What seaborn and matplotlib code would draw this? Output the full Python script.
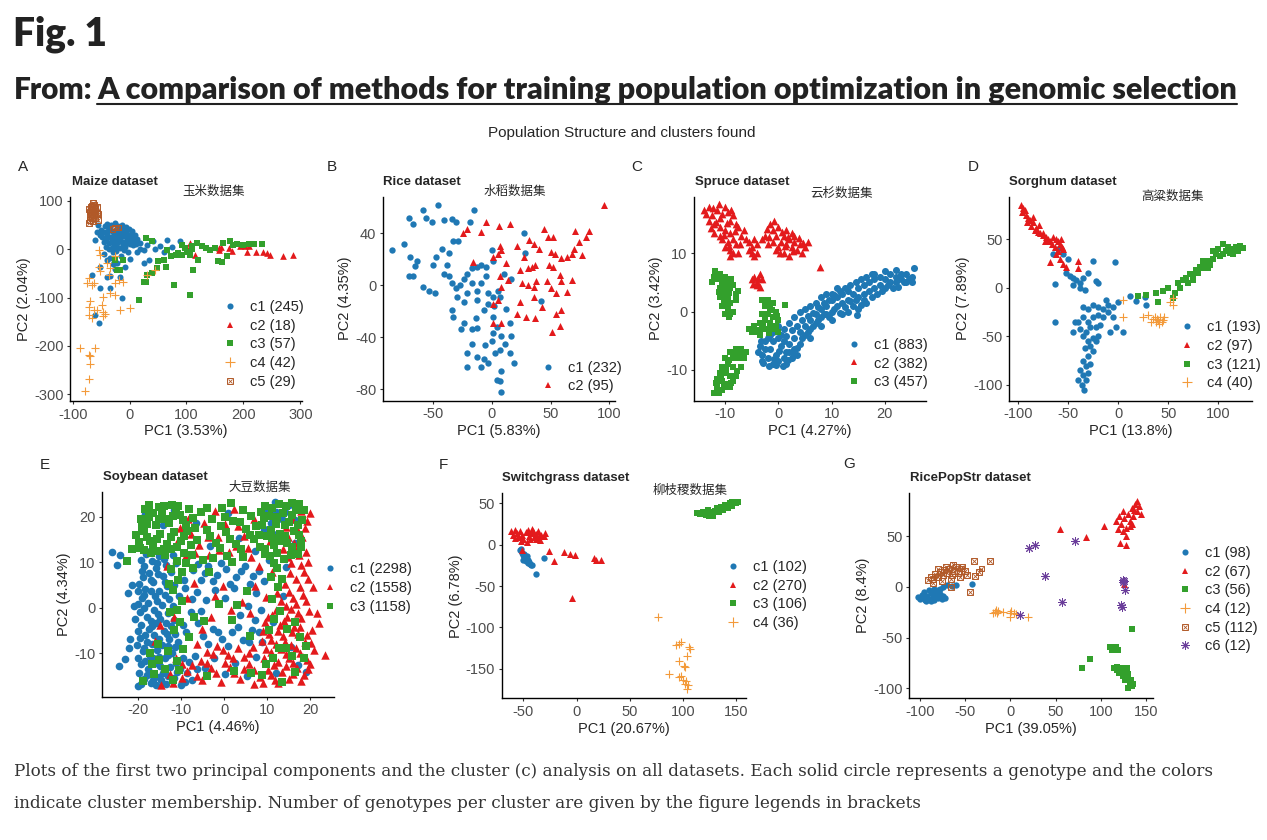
import numpy as np
import pandas as pd
import seaborn as sns
import matplotlib.pyplot as plt
from matplotlib.lines import Line2D

sns.set_theme(style='ticks')
plt.rcParams['font.family'] = ['Liberation Sans', 'DejaVu Sans']
plt.rcParams['axes.unicode_minus'] = False

W, H = 1267, 840

# ---------------- data ----------------
maize_c1 = [(-40,30),(-35,25),(-30,35),(-25,20),(-20,30),(-15,25),(-10,15),(-5,20),(0,10),(5,15),(-45,15),(-38,45),
            (-32,50),(-28,10),(-22,5),(-18,40),(-12,35),(-8,5),(-3,30),(2,25),(8,20),(12,10),(-50,40),(-55,50),(-48,25),
            (-42,5),(-36,0),(-30,-5),(-26,55),(-20,48),(-14,50),(-6,45),(-1,42),(4,38),(9,30),(13,22),(-33,15),(-27,28),
            (-17,18),(-11,8),(19,12),(31,9),(42,16),(54,6),(66,19),(89,16),(13,-5),(25,-1),(-2,-5),(19,0),(-34,-19),
            (-40,-22),(-22,-29),(-8,-36),(-52,-36),(-16,-57),(-66,-53),(-52,-81),(-34,-81),(-14,-101),(-60,-136),
            (-54,-153),(-40,-57),(25,-29),(34,-22),(-45,-10),(-58,35),(-60,20),(-15,-15),(-25,-40),(0,-20),(45,0),
            (60,-5),(75,5),(-35,-55),(-30,-30),(-45,35),(-42,22),(-38,38),(-34,42),(-29,18),(-26,38),(-23,12),(-19,22),
            (-16,35),(-13,42),(-10,28),(-7,38),(-4,12),(-1,22),(3,32),(6,8),(-37,12),(-31,3),(-24,-3),(-17,2),(-9,-2),
            (-44,48),(-52,30),(-40,52),(-20,15)]
maize_c2 = [(107,12),(115,-12),(157,-1),(174,2),(194,6),(209,6),(206,-5),(223,-5),(235,-5),(241,-8),(247,-12),
            (269,-15),(288,-12),(157,2),(203,7),(104,2),(160,4),(180,-3)]
maize_c3 = [(28,23),(39,16),(66,-1),(72,-15),(81,-12),(60,-22),(64,-36),(48,-39),(31,-53),(28,-67),(78,-74),(16,-105),
            (107,-94),(92,9),(98,2),(109,6),(118,12),(127,6),(141,-1),(150,2),(165,12),(176,16),(182,9),(171,-15),
            (162,-26),(155,-25),(200,9),(218,11),(232,11),(112,-43),(121,-22),(92,-12),(101,-5),(-22,-43),(-16,-43),
            (-11,-22),(-25,-22),(107,-12),(85,-8),(39,-50),(26,-68),(50,-25),(135,3),(188,10),(210,10),(110,0)]
maize_c4 = [(-54,-1),(-52,-12),(-25,-15),(-40,-29),(-54,-36),(-34,-39),(-37,-53),(45,-43),(31,-53),(-72,-60),(-63,-70),
            (-66,-74),(-19,-63),(-25,-70),(-11,-67),(-34,-91),(-25,-94),(-46,-98),(-49,-115),(-69,-108),(-72,-119),
            (-63,-126),(-57,-126),(-46,-130),(-43,-133),(-72,-136),(-66,-143),(-46,-139),(-16,-126),(1,-122),
            (-87,-204),(-60,-204),(-72,-218),(-69,-221),(-69,-238),(-72,-269),(-78,-294),(-52,-46),(-75,-70)]
maize_c5 = [(-65,95),(-62,92),(-68,88),(-60,85),(-66,82),(-70,78),(-63,78),(-58,75),(-68,72),(-62,70),(-66,65),(-60,65),
            (-70,60),(-64,58),(-55,60),(-72,55),(-25,45),(-20,45),(-30,42),(-58,88),(-66,90),(-71,83),(-61,80),
            (-55,72),(-69,68)]

rice_c1 = [(-85,27),(-75,32),(-71,52),(-67,47),(-59,58),(-56,52),(-51,49),(-46,62),(-41,50),(-34,51),(-31,49),(-33,34),
           (-29,34),(-19,49),(-15,58),(-70,22),(-64,19),(-66,15),(-71,7),(-67,7),(-59,-1),(-54,-4),(-49,-6),(-50,16),
           (-48,22),(-43,28),(-37,25),(-38,16),(-41,9),(-37,7),(-34,2),(-31,-2),(-27,0),(-24,5),(-21,9),(-17,13),
           (-13,14),(-9,16),(-5,14),(0,27),(1,19),(-5,7),(-9,2),(-13,-4),(-17,2),(-21,-6),(-24,-13),(-30,-9),(-34,-19),
           (-33,-24),(-24,-29),(-26,-34),(-14,-25),(-13,-33),(-7,-19),(-3,-14),(1,-9),(5,-4),(7,-9),(2,-16),(1,-24),
           (4,-32),(1,-37),(8,-39),(11,-45),(7,-50),(0,-43),(-6,-46),(-7,-57),(-13,-55),(-21,-52),(-21,-63),(-9,-63),
           (-3,-60),(3,-52),(4,-73),(7,-74),(8,-82),(8,-66),(15,-52),(19,-60),(16,-39),(15,-29),(12,-18),(16,5),(10,9),
           (28,25),(27,40),(42,-12),(-17,-45),(-17,-34),(-13,-11),(-3,-6)]
rice_c2 = [(-25,40),(-21,43),(-9,41),(-5,49),(6,46),(15,47),(1,22),(7,30),(8,27),(5,24),(-16,18),(21,30),(27,22),
           (32,35),(36,32),(40,28),(44,43),(48,37),(52,37),(50,26),(54,24),(59,21),(64,22),(68,24),(71,42),(70,28),
           (74,33),(77,23),(80,37),(83,42),(96,62),(24,12),(31,13),(34,14),(26,2),(31,0),(38,3),(47,3),(50,-2),
           (55,-6),(59,3),(64,-5),(68,4),(58,8),(52,14),(49,16),(37,16),(36,-9),(43,-17),(29,-24),(37,-25),(21,-22),
           (14,4),(8,-1),(5,-11),(1,-14),(8,-29),(1,-29),(55,-22),(59,-19),(58,-31),(51,-36),(24,-13),(36,-1),(7,7),
           (12,17)]

spruce_c1 = [(-3.5,-6),(-3,-7.5),(-2.5,-5),(-2,-8),(-1.5,-6.5),(-1,-9),(-0.5,-7.5),(0,-8.5),(0.5,-6),(1,-8),(1.5,-9),
             (2,-7),(2.5,-8),(3,-6.5),(-2,-4.5),(-1,-5),(0,-4.5),(1,-5),(2,-5.5),(3,-4.5),(4,-5.5),(4,-3.5),(5,-4),
             (5,-2.5),(6,-3),(6,-1.5),(7,-2),(7,-0.5),(8,-1),(8,0.5),(9,-0.5),(9,1),(10,0),(10,2),(11,1),(11,2.5),
             (12,1.5),(12,3),(13,2),(13,3.5),(14,1),(14,3),(15,2.5),(15,4),(16,3),(16,4.5),(17,3.5),(17,5),(18,4),
             (18,5.5),(19,4.5),(19,6),(20,4),(20,5.5),(21,5),(21,6.5),(22,5),(22,6),(23,5.5),(23,6.5),(24,5),(24,6.5),
             (25,6),(25.5,7.5),(2,-2),(3,-1),(4,0),(5,0.5),(6,1),(7,1.5),(8,2.5),(9,3),(10,3),(11,4),(12,-0.5),(13,0),
             (15,0.5),(10,-1.5),(8,-2.5),(6,-4.5),(1,-3),(0,-2.5),(-1,-3.5),(14.7,-0.6),(16,2),(-3,-8.5),(-0.5,-9.2),
             (1.5,-7),(3.5,-7.5),(-2.5,-6.5),(-3.8,-7),(-3.2,-5),(-2.8,-8.8),(-1.8,-9.3),(-0.8,-8.2),(0.2,-6.8),
             (0.8,-9.3),(1.8,-8.4),(2.8,-7.2),(3.6,-6.2),(-1.5,-4),(-0.5,-3),(0.5,-4),(1.5,-4.2),(2.5,-3.2),(3.5,-2.5),
             (4.5,-1.5),(5.5,-0.8),(6.5,-0.2),(7.5,0.8),(8.5,1.5),(9.5,2),(10.5,2.8),(11.5,3.5),(12.5,4),(13.5,4.5),
             (14.5,5),(15.5,5.5),(16.5,6),(17.5,6.5),(4.5,-4.5),(5.5,-3.5),(6.5,-2.5),(7.5,-1.5),(8.5,-0.5),(9.5,-1),
             (10.5,0.5),(11.5,-0.2),(12.5,0.8),(13.5,1.8),(14.5,2),(15.5,1.2),(16.5,1.5),(17.5,2.5),(18.5,3),(19.5,3.5),
             (20.5,4.5),(21.5,4),(22.5,4.2),(23.5,5),(24.5,5.5),(25,5),(22,7.2),(20,7),(18,6.5)]
spruce_c2 = [(-14,17.5),(-13,18),(-12.5,16.5),(-11.5,17.5),(-11,16),(-10,18),(-9.5,17),(-9,15.5),(-8.5,16.5),(-8,15),
             (-7.5,14.5),(-13,15.5),(-12,15),(-11,14.5),(-10,14),(-9,13.5),(-10.5,12.5),(-9.5,12),(-10,11),(-9,10.5),
             (-8.5,10),(-8,11.5),(-11,13),(-12,13.5),(-7,13),(-6,12.5),(-6.5,14),(-8.5,12.5),(-9,9.5),(-7.5,10),
             (-5.5,12),(-5,11),(-4.5,12.5),(-5,10),(-4,11.5),(-4.5,9.5),(-5.5,10.5),(-4,10),
             (-2.5,13),(-1.5,15),(-1,14),(-0.5,13),(0,14.5),(0.5,12),(1,13),(1.5,11.5),(2,12.5),(2.5,11),(3,12),
             (3.5,10.5),(4,11.5),(5,11),(5.5,12),(0,11),(1,10),(2,9.5),(-1,12),(-2,11.5),(-0.5,10.5),(3,13),(4.5,10),
             (1.5,14),(2.5,13.5),(-3,12.5),(-4.5,6),(-4,5),(-3.5,6.5),(-3,5.5),(-4,4.5),(-3.5,4.2),(-5,5.5),(7.8,7.7),
             (-13.5,16.8),(-12.2,17.8),(-11.2,18.5),(-10.5,16.8),(-9.7,15.2),(-8.8,17.4),(-12.6,14.3),(-11.6,15.4),
             (-10.2,13.2),(-9.3,11.3),(-8.2,13.8),(-7.2,11.6),(-0.8,15.5),(0.7,13.6),(1.8,12.8),(2.8,10.3),(3.8,12.6),
             (4.7,11.8),(-1.8,12.7),(0.3,10),(1.2,11.2),(-2.2,14.2),(-3.8,5.8),(-4.7,4.8)]
spruce_c3 = [(-12,6),(-11,6.5),(-10,6),(-10.5,5),(-9.5,5),(-11.5,5.5),(-12.5,5),(-11,4),(-10,3.5),(-9,4),(-8.5,4.5),
             (-10.5,3),(-9.5,2.5),(-8,3),(-10,2),(-9,1.5),(-10.5,1),(-9.5,0.5),(-10,-0.5),(-9,-0.5),(-8.5,0),(-8,2),
             (-11,2.5),(-7.5,3.5),(-3,2),(-2,2),(-1,1.5),(-2.5,1),(-1.5,0.5),(-0.5,0),(-2,-0.5),(-1,-1),(0,-1.5),
             (-3,-0.5),(-2.5,-1.5),(-1.5,-2),(-3.5,-2),(-4.5,-2.5),(-5,-3.5),(-4,-3.5),(-3,-3),(-2,-3),(-1,-3),(0,-3.5),
             (-5.5,-3),(-3.5,-4),(-8,-6.5),(-7,-6.5),(-6,-7),(-9,-7),(-8.5,-8),(-7.5,-8),(-6.5,-8),(-10,-8),(-9.5,-9),
             (-8.5,-9.5),(-7,-9.5),(-10.5,-9.5),(-11,-10.5),(-10,-10.5),(-9,-11),(-8,-11),(-11.5,-11.5),(-10.5,-12),
             (-9.5,-12.5),(-11.5,-13),(-10.5,-13.5),(-12,-14),(-9,-13),(-8.5,-12),(1.2,1.2),
             (-11.8,6.9),(-10.8,5.8),(-9.8,4.3),(-11.2,3.3),(-9.2,3.2),(-10.2,1.4),(-9.3,-0.9),(-8.8,5.5),(-2.2,1.5),
             (-1.2,0.2),(-0.2,-0.8),(-2.8,-2.3),(-4.2,-3.1),(-0.5,-2.4),(-1.8,-3.6),(-7.2,-7.2),(-8.2,-7.5),(-9.2,-8.3),
             (-7.8,-10.2),(-9.8,-10),(-10.8,-11.2),(-10.2,-13),(-11.2,-14),(-8.9,-12.2),(-11.7,-12.3)]

sorghum_c1 = [(-60,40),(-65,35),(-55,35),(-50,30),(-52,15),(-48,12),(-45,10),(-42,8),(-38,5),(-35,10),(-30,15),(-38,0),
              (-45,3),(-63,4),(-25,28),(-3,27),(-33,-2),(-20,5),(-22,7),(-35,-20),(-30,-22),(-25,-18),(-20,-20),
              (-15,-22),(-10,-25),(-5,-30),(-35,-30),(-30,-35),(-25,-30),(-20,-28),(-15,-30),(-10,-18),(-5,-20),
              (-40,-35),(-38,-42),(-32,-45),(-28,-40),(-22,-40),(-18,-38),(-35,-50),(-30,-55),(-25,-52),(-20,-50),
              (-28,-60),(-25,-65),(-22,-55),(-33,-62),(-30,-70),(-35,-75),(-32,-80),(-38,-85),(-35,-90),(-32,-95),
              (-36,-100),(-34,-105),(-30,-88),(-28,-78),(-40,-95),(-63,-35),(-43,-35),(5,-45),(-2,-40),(-8,-45),
              (0,-15),(12,-8),(18,-14),(27,-9),(28,-18),(-12,-12),(-45,-45)]
sorghum_c2 = [(-97,85),(-95,82),(-93,80),(-96,78),(-92,75),(-90,72),(-88,70),(-85,68),(-87,64),(-82,62),(-80,58),
              (-78,56),(-75,54),(-72,52),(-70,50),(-68,48),(-65,52),(-62,50),(-60,48),(-58,45),(-56,42),(-55,40),
              (-60,38),(-63,42),(-66,45),(-85,73),(-79,65),(-91,68),(-75,57),(-58,30),(-55,25),(-68,27),(-52,22),
              (-40,20),(-40,28),(-57,50),(-73,48),(-62,35),(-83,60)]
sorghum_c3 = [(20,-8),(28,-7),(38,-5),(40,-15),(45,-3),(50,0),(55,-10),(60,5),(65,8),(68,10),(70,5),(72,14),(75,12),
              (78,18),(80,15),(82,22),(85,20),(88,25),(90,28),(92,24),(95,30),(98,35),(100,40),(102,33),(105,45),
              (108,38),(110,42),(112,36),(115,40),(118,42),(120,38),(122,43),(125,41),(85,28),(95,38),(105,35),
              (115,35),(75,8),(62,0),(57,-5),(90,20)]
sorghum_c4 = [(5,-12),(5,-30),(25,-30),(30,-28),(35,-32),(38,-35),(40,-33),(42,-30),(44,-35),(41,-37),(37,-30),
              (46,-30),(33,-35),(55,-18),(55,-10),(52,-15),(45,-33),(39,-32)]

soy_c1 = [(-19.5,10.5),(-18.2,11.8),(-16.8,10.2),(-15.1,11.3),(-13.6,9.4),(-19.1,8.2),(-17.5,7.6),(-15.9,8.8),
          (-14.2,6.9),(-12.4,7.8),(-19.8,5.3),(-18.4,4.1),(-16.6,5.7),(-15.2,3.6),(-13.3,4.8),(-19.2,2.2),(-17.7,1.1),
          (-16.1,2.6),(-14.5,0.7),(-12.8,1.9),(-19.6,-0.8),(-18.1,-1.9),(-16.4,-0.4),(-14.9,-2.5),(-13.1,-1.2),
          (-19.3,-3.7),(-17.6,-4.6),(-15.8,-3.3),(-14.1,-5.1),(-12.5,-4.0),(-19.7,-6.6),(-18.0,-7.4),(-16.3,-6.0),
          (-14.6,-8.2),(-12.9,-6.9),(-19.0,-9.5),(-17.3,-10.6),(-15.6,-9.2),(-13.8,-11.0),(-12.2,-9.8),(-19.4,-12.4),
          (-17.8,-13.5),(-16.0,-12.1),(-14.3,-14.2),(-12.6,-12.9),(-18.7,-15.6),(-17.0,-16.4),(-15.3,-15.1),
          (-13.5,-16.8),(-11.8,-15.5),(-10.2,-13.4),(-9.1,-16.2),(-8.3,-11.8),(-10.8,-7.5),(-9.6,-3.8),(-10.5,2.5),
          (-11.2,9.8),(-9.4,6.1),(-26.2,12.3),(-25.0,9.4),(-24.3,11.6),(-22.4,3.2),(-21.4,5.1),(-21.9,-6.8),
          (-22.3,-8.9),(-23.2,-11.2),(-24.6,-12.8),(-20.2,-17.2),(-21.0,0.5),(-20.8,-2.5),(-18.5,20.5),(-16.8,14.5),
          (-14.2,18.2),(-11.6,21.5),(-6.5,18.7),(-3.2,13.6),(0.8,20.8),(3.5,15.4),(9.6,21.8),(11.8,23.2),(13.5,19.6),
          (15.2,22.5),(12.4,16.3),(16.6,14.2),(7.2,12.5),(-7.2,8.4),(-5.5,6.2),(-3.8,9.1),(-1.6,7.3),(0.5,8.6),
          (2.7,6.8),(4.9,9.3),(6.8,7.1),(-6.4,3.5),(-4.2,1.8),(-2.1,3.9),(0.2,2.1),(2.4,4.4),(7.5,3.2),(9.3,5.8),
          (-7.8,-0.9),(-6.1,-3.4),(3.6,-1.5),(8.6,-0.4),(-5.0,-6.1),(-2.7,-4.6),(-0.6,-6.8),(1.9,-5.2),(4.3,-7.0),
          (6.5,-4.9),(8.9,-7.6),(-6.8,-10.5),(-4.5,-13.1),(-2.3,-11.0),(0.1,-14.6),(2.6,-12.2),(5.2,-15.0),
          (7.4,-10.8),(11.3,-3.2),(13.8,2.7),(15.6,-8.5),(17.2,-12.6),(12.1,-14.3),(14.5,8.9),(19.1,-14.1),
          (10.4,10.6),(-18.8,9.3),(-17.2,12.4),(-15.6,9.9),(-14.0,10.7),(-12.0,11.6),(-18.9,6.7),(-17.1,6.2),
          (-15.4,7.4),(-13.7,5.6),(-11.8,5.1),(-20.1,3.7),(-18.7,2.9),(-17.0,3.8),(-15.6,1.5),(-13.9,2.8),(-11.9,0.4),
          (-20.2,0.8),(-18.6,-0.1),(-17.1,-2.9),(-15.4,-1.4),(-13.6,-3.4),(-11.8,-2.6),(-20.0,-5.1),(-18.4,-5.9),
          (-16.9,-4.0),(-15.1,-6.8),(-13.4,-5.8),(-11.5,-5.7),(-20.3,-8.2),(-18.6,-8.9),(-16.9,-8.0),(-15.2,-10.7),
          (-13.2,-8.3),(-11.4,-8.6),(-20.1,-11.1),(-18.4,-11.7),(-16.7,-10.9),(-14.9,-12.8),(-13.1,-10.4),
          (-11.2,-12.0),(-19.9,-14.2),(-18.1,-14.8),(-16.6,-15.8),(-14.8,-15.9),(-13.0,-14.9),(-10.9,-14.1),
          (-9.7,-11.1),(-8.6,-14.2),(-7.6,-15.9),(-6.3,-13.4),(-19.3,-16.8),(-16.0,-17.0),(-10.0,-16.9),(-6.0,9.7),
          (-4.4,7.6),(-2.5,5.9),(-0.7,9.9),(1.4,5.3),(3.8,8.1),(5.9,5.3),(8.1,8.0),(-7.5,1.9),(-5.3,-0.6),(5.6,0.4),
          (7.1,-2.6),(-3.8,-7.9),(-1.4,-5.3),(1.0,-8.3),(3.3,-4.2),(5.8,-7.6),(8.0,-5.4),(-8.9,-5.2),(-9.2,4.3),
          (10.8,18.6),(14.2,21.0),(12.1,21.0),(16.4,19.2),(9.2,17.3)]
soy_c2 = [(8.4,-15.2),(10.1,-13.6),(11.8,-15.8),(13.5,-14.1),(15.2,-15.6),(16.9,-13.2),(18.6,-14.8),(20.1,-12.4),
          (9.2,-11.1),(10.9,-9.6),(12.6,-11.8),(14.3,-10.2),(16.0,-12.0),(17.7,-9.8),(19.4,-11.4),(21.0,-9.3),
          (8.7,-7.3),(10.4,-5.8),(12.1,-7.9),(13.8,-6.2),(15.5,-8.1),(17.2,-5.7),(18.9,-7.5),(20.4,-4.9),
          (9.5,-3.2),(11.2,-1.5),(12.9,-3.8),(14.6,-1.9),(16.3,-4.1),(18.0,-2.2),(19.7,-0.6),(22.1,-3.4),
          (13.2,1.6),(15.0,3.4),(16.7,0.8),(18.4,2.9),(14.1,5.2),(16.8,6.4),(18.7,7.9),(15.5,9.8),(17.4,11.6),
          (13.6,12.9),(16.2,14.3),(18.9,17.5),(15.8,19.6),(17.9,21.3),(14.3,17.8),(19.0,12.3),(23.5,-10.3),
          (21.7,-1.2),(20.6,4.6),(19.9,20.8),(-9.8,-15.4),(-7.5,-12.6),(-5.2,-15.9),(-3.0,-13.1),(-0.8,-16.2),
          (1.4,-12.9),(3.6,-15.6),(5.8,-12.3),(7.0,-16.8),(-4.1,-9.6),(-1.7,-8.3),(0.9,-10.4),(3.2,-8.8),(5.7,-9.9),
          (-6.3,-8.0),(-12.6,-14.6),(-14.8,-16.9),(-11.3,-10.9),(-14.9,-3.8),(-11.7,-2.1),(-13.4,9.2),(-9.0,11.6),
          (-7.1,5.4),(-5.9,13.8),(-3.5,11.7),(-1.4,15.6),(1.1,12.3),(3.3,17.9),(5.6,13.2),(6.9,19.4),(-4.6,18.6),
          (-2.2,21.2),(2.2,21.7),(-7.7,16.2),(-10.8,14.8),(-0.3,4.9),(4.1,1.3),(-3.1,-1.9),(6.1,-1.1),(8.2,9.1),
          (10.6,14.7),(-8.7,2.1),(-16.1,-7.2),(9.0,-16.4),(10.8,-14.7),(12.6,-16.5),(14.4,-12.8),(16.1,-14.5),
          (17.8,-16.0),(19.5,-13.5),(9.8,-9.0),(11.5,-12.6),(13.2,-9.0),(15.0,-11.1),(16.7,-8.9),(18.4,-10.7),
          (20.3,-7.7),(9.1,-5.0),(10.8,-7.0),(12.5,-5.1),(14.2,-7.5),(15.9,-5.4),(17.7,-4.1),(19.4,-5.9),(10.2,-1.9),
          (12.0,-0.4),(13.9,-2.9),(15.6,-0.3),(17.3,-1.1),(19.0,1.5),(14.4,0.5),(12.4,3.2),(16.0,2.1),(17.6,4.6),
          (19.6,6.3),(15.3,7.6),(17.9,9.4),(19.5,10.1),(14.8,11.2),(16.9,12.9),(18.2,15.6),(17.0,17.4),(19.3,19.0),
          (14.9,15.6),(-8.7,-13.9),(-6.4,-15.0),(-4.1,-12.0),(-1.9,-14.4),(0.3,-12.0),(2.4,-14.3),(4.7,-13.5),
          (6.9,-13.6),(-2.7,-10.1),(-0.3,-9.2),(2.1,-10.9),(4.5,-10.8),(6.8,-8.5),(-5.5,-11.6),(-9.9,-12.3),
          (-12.0,-16.5),(-3.8,15.5),(-6.8,12.1),(0.2,18.5),(4.7,15.7),(-1.1,12.8),(2.8,13.5),(6.2,11.2),(-8.5,19.5),
          (-10.4,17.6),(-2.1,2.6),(1.7,-0.4),(7.2,4.9),(-5.2,-4.7),(9.8,2.4),(11.1,7.9)]
soy_c3 = [(-19.6,13.2),(-18.1,15.6),(-16.5,13.8),(-14.9,16.2),(-13.3,14.1),(-11.7,16.7),(-10.1,14.6),(-8.6,16.9),
          (-19.2,17.8),(-17.6,19.9),(-16.0,18.3),(-14.4,20.6),(-12.8,18.7),(-11.2,21.1),(-9.6,19.2),(-8.1,21.6),
          (-18.4,21.8),(-15.3,22.2),(-12.2,22.6),(-17.0,12.0),(-13.9,11.6),(-20.5,15.9),(-21.6,12.9),(-22.6,10.3),
          (8.3,13.4),(9.9,15.7),(11.5,13.9),(13.1,16.3),(14.7,14.2),(16.3,16.8),(17.9,14.7),(8.8,18.1),(10.4,20.2),
          (12.0,18.5),(13.6,20.8),(15.2,18.9),(16.8,21.4),(18.1,19.3),(9.6,22.4),(12.8,22.9),(15.9,23.1),
          (10.7,11.3),(14.0,10.8),(17.2,11.9),(-6.4,14.9),(-4.1,17.1),(-1.8,14.3),(0.5,16.6),(2.8,14.0),(5.1,17.4),
          (7.0,15.2),(-5.3,21.0),(-2.9,19.4),(-0.4,21.9),(2.1,19.0),(4.3,21.4),(6.3,20.1),(1.6,23.0),(-12.4,8.6),
          (-10.7,6.2),(-11.9,3.9),(-9.8,1.4),(-12.7,-0.9),(-10.3,-3.1),(-8.9,9.9),(-7.6,11.7),(-5.0,10.4),
          (-2.6,10.9),(1.9,10.1),(4.4,11.2),(-8.1,-6.4),(-7.0,-1.9),(10.9,6.7),(12.6,4.5),(11.2,1.9),(13.0,-0.6),
          (10.5,-4.9),(14.7,-4.7),(12.3,8.8),(-1.3,0.8),(1.8,-2.6),(5.3,3.8),(-4.6,-2.8),(3.0,0.6),(6.1,-6.2),
          (-17.3,-9.8),(-15.5,-7.9),(-13.2,-9.4),(-11.1,-11.6),(-16.4,-14.5),(-18.9,-16.1),(-12.0,-15.9),
          (-9.5,-9.0),(9.8,-12.3),(12.7,-8.9),(15.9,-10.6),(17.6,-6.4),(13.4,-16.2),(19.1,-8.3),(6.3,-14.3),
          (-3.9,-15.0),(2.4,-13.9),(-19.9,14.5),(-18.7,16.8),(-17.2,14.7),(-15.7,15.1),(-14.1,13.0),(-12.5,15.5),
          (-10.9,13.3),(-9.3,15.8),(-7.8,13.7),(-19.5,19.4),(-18.0,18.5),(-16.7,20.8),(-15.1,19.4),(-13.6,19.6),
          (-12.0,20.1),(-10.4,20.4),(-8.8,18.2),(-7.2,19.8),(-17.5,22.5),(-14.0,22.3),(-10.7,22.4),(-18.6,12.8),
          (-15.4,12.4),(-12.3,12.9),(-9.4,12.0),(8.1,15.9),(9.5,13.0),(11.1,15.3),(12.7,14.7),(14.2,15.8),(15.8,13.3),
          (17.4,16.1),(9.2,19.7),(10.8,17.2),(12.4,20.0),(14.1,18.1),(15.7,20.3),(17.3,18.2),(18.5,21.5),(11.2,22.0),
          (14.3,22.4),(17.5,22.9),(8.6,21.1),(9.5,11.9),(12.4,12.1),(15.6,11.6),(18.0,13.3),(-3.2,15.7),(-0.8,18.0),
          (1.4,15.1),(3.7,18.9),(5.9,16.0),(7.5,17.9),(-6.9,17.5),(-1.0,13.1),(3.9,13.0),(-3.9,22.0),(0.3,20.0),
          (-11.0,10.3),(-9.9,7.8),(-12.9,5.3),(-10.9,-0.4),(-11.6,-4.8),(-7.2,8.8),(-3.6,7.9),(0.7,11.3),(11.5,9.8),
          (13.5,6.4),(11.7,-2.5),(14.4,-8.8),(16.6,-3.2),(-15.1,-11.5),(-13.8,-13.4),(-16.8,-12.3),(-10.6,-13.7),
          (8.9,-14.8),(11.3,-11.1),(16.4,-14.0),(18.6,-11.0)]

switch_c1 = [(-53,-7),(-51,-10),(-50,-13),(-49,-15),(-48,-17),(-47,-14),(-46,-19),(-45,-21),(-44,-23),(-43,-25),
             (-42,-24),(-48,-20),(-50,-18),(-52,-5),(-31,-16),(-38,-35),(-46,-22),(-49,-11)]
switch_c2 = [(-62,16),(-60,12),(-58,18),(-56,14),(-55,9),(-53,17),(-51,12),(-50,7),(-48,15),(-46,18),(-45,11),(-43,14),
             (-41,17),(-40,9),(-38,13),(-36,16),(-35,10),(-33,12),(-31,10),(-30,14),(-58,8),(-52,4),(-47,3),(-44,7),
             (-38,7),(-34,6),(-51,-7),(-26,-8),(-21,-20),(-12,-9),(-6,-11),(-1,-12),(16,-16),(23,-18),(18,-19),
             (-4,-64),(-37,9),(-42,19)]
switch_c3 = [(113,38),(116,37),(119,40),(122,36),(124,42),(126,38),(128,35),(130,41),(132,44),(134,39),(136,46),
             (138,42),(140,48),(142,44),(144,50),(146,47),(148,52),(150,50),(152,52),(135,43),(141,46),(146,51),
             (128,40),(125,34)]
switch_c4 = [(77,-87),(96,-120),(98,-118),(106,-124),(107,-126),(104,-134),(96,-140),(101,-146),(87,-156),(96,-160),
             (100,-164),(102,-168),(104,-174),(103,-165),(105,-170),(98,-158),(94,-121),(102,-148)]

rps_c1 = [(-102,-10),(-100,-12),(-98,-8),(-96,-11),(-94,-13),(-92,-9),(-90,-12),(-88,-6),(-86,-10),(-84,-13),(-82,-8),
          (-80,-11),(-78,-7),(-76,-12),(-74,-9),(-72,-11),(-95,-5),(-90,-3),(-85,-2),(-80,-3),(-88,-14),(-78,-2),
          (-74,0),(-70,2),(-65,1),(-60,2),(-42,3),(-93,-14),(-83,-4)]
rps_c2 = [(55,57),(84,49),(104,60),(117,65),(120,70),(122,62),(124,75),(126,68),(128,58),(130,72),(132,65),(134,78),
          (136,70),(138,82),(140,75),(142,80),(144,72),(135,62),(128,50),(125,55),(121,43),(128,41),(126,3),(140,85),
          (132,60),(119,57),(137,76)]
rps_c3 = [(135,-42),(79,-80),(88,-71),(110,-59),(117,-59),(119,-62),(112,-62),(115,-80),(118,-82),(120,-85),(122,-80),
          (124,-88),(126,-84),(128,-90),(130,-86),(132,-95),(134,-98),(130,-100),(127,-92),(123,-82),(118,-79),
          (129,-80),(133,-92),(136,-96)]
rps_c4 = [(-19,-26),(-16,-23),(-14,-24),(-8,-25),(-1,-26),(-1,-30),(4,-26),(19,-30),(-15,-26),(1,-24),(-17,-25),(6,-27)]
rps_c5 = [(-91,7),(-88,10),(-85,8),(-83,13),(-80,10),(-78,15),(-75,12),(-73,17),(-70,14),(-68,18),(-65,12),(-62,16),
          (-60,20),(-58,14),(-55,18),(-53,20),(-50,16),(-48,12),(-86,4),(-76,6),(-66,8),(-56,10),(-63,22),(-71,20),
          (-40,25),(-39,11),(-32,18),(-23,25),(-45,-5),(-80,18),(-66,0),(-35,15)]
rps_c6 = [(11,-28),(21,38),(27,41),(38,11),(57,-15),(71,45),(124,7),(126,6),(127,-3),(122,-18),(123,-20),(125,5)]

maize_n = [245, 18, 57, 42, 29]
rice_n = [232, 95]
spruce_n = [883, 382, 457]
sorghum_n = [193, 97, 121, 40]
soy_n = [2298, 1558, 1158]
switch_n = [102, 270, 106, 36]
rps_n = [98, 67, 56, 12, 112, 12]

# ---------------- styles ----------------
COLS = ['#1F78B4', '#E31A1C', '#33A02C', '#F39A3A', '#B15928', '#6A3D9A']


def fx(px):
    return px / W


def fy(py):
    return 1 - py / H


fig = plt.figure(figsize=(W / 100, H / 100), dpi=100)


def draw_cluster(ax, pts, i, k=1.0):
    df = pd.DataFrame(pts, columns=['PC1', 'PC2'])
    c = COLS[i]
    if i == 0:
        sns.scatterplot(data=df, x='PC1', y='PC2', ax=ax, color=c, marker='o', s=19 * k, linewidth=0, legend=False)
        return Line2D([], [], ls='none', marker='o', color=c, markersize=4.4, mew=0)
    if i == 1:
        sns.scatterplot(data=df, x='PC1', y='PC2', ax=ax, color=c, marker='^', s=23 * k, linewidth=0, legend=False)
        return Line2D([], [], ls='none', marker='^', color=c, markersize=4.8, mew=0)
    if i == 2:
        sns.scatterplot(data=df, x='PC1', y='PC2', ax=ax, color=c, marker='s', s=17 * k, linewidth=0, legend=False)
        return Line2D([], [], ls='none', marker='s', color=c, markersize=4.2, mew=0)
    if i == 3:
        sns.scatterplot(data=df, x='PC1', y='PC2', ax=ax, color=c, marker='+', s=36, linewidth=0.8, legend=False)
        return Line2D([], [], ls='none', marker='+', color=c, markersize=6.5, mew=0.8)
    if i == 4:
        sns.scatterplot(data=df, x='PC1', y='PC2', ax=ax, marker='s', s=18, facecolor='none', edgecolor=c,
                        linewidth=0.7, legend=False)
        sns.scatterplot(data=df, x='PC1', y='PC2', ax=ax, color=c, marker='x', s=10, linewidth=0.6, legend=False)
        h1 = Line2D([], [], ls='none', marker='s', mfc='none', mec=c, markersize=4.5, mew=0.7)
        h2 = Line2D([], [], ls='none', marker='x', color=c, markersize=3.2, mew=0.6)
        return (h1, h2)
    sns.scatterplot(data=df, x='PC1', y='PC2', ax=ax, color=c, marker=(8, 2, 0), s=32, linewidth=0.7, legend=False)
    return Line2D([], [], ls='none', marker=(8, 2, 0), color=c, markersize=6, mew=0.7)


def panel(box, clusters, counts, xlim, ylim, xt, yt, xl, yl, leg, k=1.0):
    l, t, r, b = box
    ax = fig.add_axes([fx(l), fy(b), (r - l) / W, (b - t) / H])
    handles = [draw_cluster(ax, pts, i, k) for i, pts in enumerate(clusters)]
    ax.set_xlim(*xlim)
    ax.set_ylim(*ylim)
    ax.set_xticks(xt)
    ax.set_yticks(yt)
    sns.despine(ax=ax)
    for sp in ('left', 'bottom'):
        ax.spines[sp].set_linewidth(1.0)
        ax.spines[sp].set_color('black')
    ax.tick_params(length=2.5, width=0.8, pad=2.2, labelsize=10.5, labelcolor='#4D4D4D', color='#333333')
    ax.set_xlabel(xl, fontsize=10.5, labelpad=2)
    ax.set_ylabel(yl, fontsize=10.5, labelpad=2)
    labels = ['c%d (%d)' % (i + 1, n) for i, n in enumerate(counts)]
    ax.legend(handles, labels, loc='center left', bbox_to_anchor=(fx(leg[0] - 7.3), fy(leg[1])),
              bbox_transform=fig.transFigure, frameon=False, borderpad=0, borderaxespad=0,
              handlelength=1.0, handletextpad=0.87, labelspacing=0.32, fontsize=10.5)
    return ax


panel((70, 197, 302, 401), [maize_c1, maize_c2, maize_c3, maize_c4, maize_c5], maize_n,
      (-104.7, 303), (-314, 108), [-100, 0, 100, 200, 300], [-300, -200, -100, 0, 100],
      'PC1 (3.53%)', 'PC2 (2.04%)', (230, 344.5))
panel((382.7, 196.7, 615, 400.7), [rice_c1, rice_c2], rice_n,
      (-93.2, 105), (-88.8, 68.2), [-50, 0, 50, 100], [-80, -40, 0, 40],
      'PC1 (5.83%)', 'PC2 (4.35%)', (548, 377), k=1.1)
panel((694, 196.7, 926, 400.7), [spruce_c1, spruce_c2, spruce_c3], spruce_n,
      (-15.8, 27.7), (-15.3, 19.7), [-10, 0, 10, 20], [-10, 0, 10],
      'PC1 (4.27%)', 'PC2 (3.42%)', (854.3, 363.5), k=1.35)
panel((1009, 196.7, 1251.7, 400.7), [sorghum_c1, sorghum_c2, sorghum_c3, sorghum_c4], sorghum_n,
      (-109.3, 133.4), (-116.2, 93.9), [-100, -50, 0, 50, 100], [-100, -50, 0, 50],
      'PC1 (13.8%)', 'PC2 (7.89%)', (1187, 355.3), k=1.1)
panel((101.7, 491.7, 334.3, 696.7), [soy_c1, soy_c2, soy_c3], soy_n,
      (-28.55, 25.66), (-19.5, 25.5), [-20, -10, 0, 10, 20], [-10, 0, 10, 20],
      'PC1 (4.46%)', 'PC2 (4.34%)', (330, 588), k=1.6)
panel((501.7, 493.3, 746, 698.3), [switch_c1, switch_c2, switch_c3, switch_c4], switch_n,
      (-70.4, 159.4), (-185.5, 62), [-50, 0, 50, 100, 150], [-150, -100, -50, 0, 50],
      'PC1 (20.67%)', 'PC2 (6.78%)', (733.3, 595), k=1.1)
panel((909.3, 492.7, 1153.3, 698.3), [rps_c1, rps_c2, rps_c3, rps_c4, rps_c5, rps_c6], rps_n,
      (-111.8, 158), (-109.8, 92.7), [-100, -50, 0, 50, 100, 150], [-100, -50, 0, 50],
      'PC1 (39.05%)', 'PC2 (8.4%)', (1185, 599.8), k=1.1)

# panel letters, titles, chinese captions
letters = [('A', 18.3, 166.7), ('B', 327, 166.7), ('C', 631.7, 166.7), ('D', 967.3, 166.7),
           ('E', 39.3, 465), ('F', 438.3, 465), ('G', 843.3, 464)]
titles = [('Maize dataset', 72, 182), ('Rice dataset', 383.3, 181.7), ('Spruce dataset', 695, 181.7),
          ('Sorghum dataset', 1009.3, 182.3), ('Soybean dataset', 102.7, 476.7),
          ('Switchgrass dataset', 501.7, 478.3), ('RicePopStr dataset', 910, 478.3)]
cn_names = [('玉米数据集', 182, 191), ('水稻数据集', 483.3, 191.7), ('云杉数据集', 810, 193.3),
            ('高粱数据集', 1141.7, 196.7), ('大豆数据集', 228.3, 487.3), ('柳枝稷数据集', 652.7, 490)]
for s, x, y in letters:
    fig.text(fx(x), fy(y), s, fontsize=11, va='center', ha='left')
for s, x, y in titles:
    fig.text(fx(x), fy(y), s, fontsize=9.5, fontweight='bold', va='center', ha='left')
for s, x, y in cn_names:
    fig.text(fx(x), fy(y), s, fontsize=9, va='center', ha='left', family=['Noto Sans CJK SC', 'DejaVu Sans'])

fig.text(fx(622), fy(133), 'Population Structure and clusters found', fontsize=11, ha='center', va='center')

# header
renderer = fig.canvas.get_renderer()


def fit(t, target):
    bb = t.get_window_extent(renderer)
    t.set_fontsize(t.get_fontsize() * target / bb.width)


hdr = ['Lato', 'DejaVu Sans']
fig.text(fx(13), fy(34), 'Fig. 1', fontsize=28, fontweight='heavy', family=hdr, va='center', color='#222222')
t_from = fig.text(fx(14), fy(90), 'From:', fontsize=20, fontweight='heavy', family=hdr, va='center',
                  color='#222222')
fit(t_from, 79)
t_ttl = fig.text(fx(97), fy(90), 'A comparison of methods for training population optimization in genomic selection',
                 fontsize=20, fontweight='heavy', family=hdr, va='center', color='#222222')
fit(t_ttl, 1143)
bb = t_ttl.get_window_extent(renderer)
fig.add_artist(Line2D([bb.x0 / W, bb.x1 / W], [fy(104), fy(104)], color='#222222', lw=1.5,
                      transform=fig.transFigure))

# caption
cap = ['Plots of the first two principal components and the cluster (c) analysis on all datasets. '
       'Each solid circle represents a genotype and the colors',
       'indicate cluster membership. Number of genotypes per cluster are given by the figure legends in brackets']
c1 = fig.text(fx(14), fy(772), cap[0], fontsize=12, family=['DejaVu Serif'], va='center', color='#333333')
fit(c1, 1190)
fig.text(fx(14), fy(803), cap[1], fontsize=c1.get_fontsize(), family=['DejaVu Serif'], va='center',
         color='#333333')

fig.savefig('out.png', dpi=100)
plt.close(fig)
